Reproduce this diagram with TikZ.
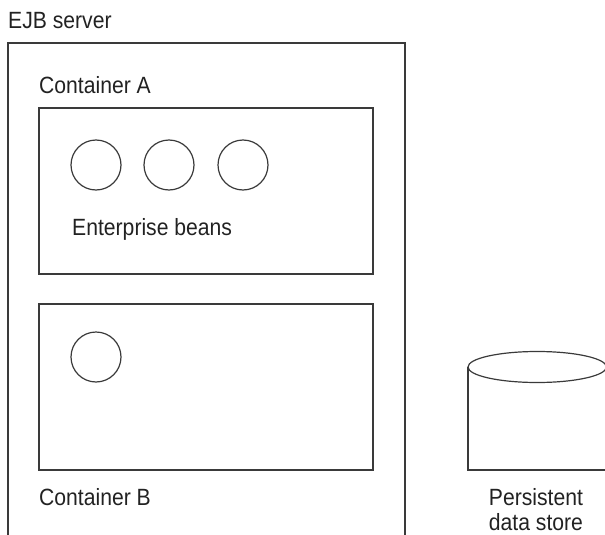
\documentclass[tikz,border=0pt]{standalone}
\usepackage{fontspec}
\setmainfont{Liberation Sans}[FakeStretch=0.9]
\definecolor{ln}{HTML}{3A3A3A}
\definecolor{tx}{HTML}{222222}
\begin{document}
\begin{tikzpicture}[x=1pt,y=-1pt,
  box/.style={draw=ln,line width=1.4pt},
  bean/.style={draw=ln,line width=1.2pt},
  lbl/.style={inner sep=0pt,anchor=base west,text=tx,font=\fontsize{23.5}{27}\selectfont},
  lblc/.style={inner sep=0pt,anchor=base,text=tx,font=\fontsize{23.5}{27}\selectfont}]
\useasboundingbox (0,0) rectangle (605,535);
\clip (0,0) rectangle (605,535);
% server (open at bottom)
\draw[box] (8,540) -- (8,43) -- (405,43) -- (405,540);
\node[lbl] (srv) at (8,29) {EJB server};
% container A
\draw[box] (39,108) rectangle (373,274);
\node[lbl] (ca) at (39,93) {Container A};
\draw[bean] (96,165) circle (25);
\draw[bean] (169,165) circle (25);
\draw[bean] (243,165) circle (25);
\node[lbl] (eb) at (72,235) {Enterprise beans};
% container B
\draw[box] (39,304) rectangle (373,470);
\draw[bean] (96,357) circle (25);
\node[lbl] (cb) at (39,505) {Container B};
% data store cylinder
\draw[box,line width=1.2pt] (468,367) -- (468,470) -- (606.5,470) -- (606.5,367);
\draw[box,line width=1.2pt] (537.2,367) ellipse (69.2 and 15.5);
\node[lblc] (ps1) at (536,505) {Persistent};
\node[lblc] (ps2) at (536,530) {data store};
\end{tikzpicture}
\end{document}
